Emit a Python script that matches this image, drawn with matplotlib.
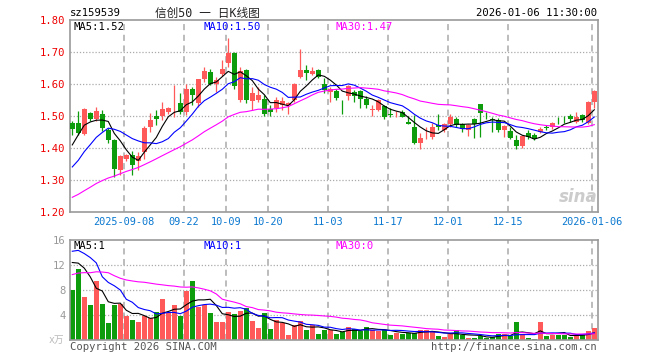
import numpy as np
import pandas as pd
import matplotlib
matplotlib.use("Agg")
from matplotlib import pyplot as plt

plt.rcParams['font.family'] = ['DejaVu Sans Mono', 'Noto Sans CJK SC']

# daily candles, 2025-08-26 .. 2026-01-06
opens = [1.478, 1.478, 1.445, 1.510, 1.490, 1.507, 1.457, 1.426, 1.333, 1.367,
         1.379, 1.359, 1.387, 1.466, 1.501, 1.500, 1.514, 1.532, 1.540, 1.514,
         1.586, 1.542, 1.615, 1.639, 1.600, 1.631, 1.665, 1.698, 1.550, 1.645,
         1.548, 1.552, 1.555, 1.521, 1.524, 1.534, 1.534, 1.552, 1.621, 1.646,
         1.631, 1.646, 1.602, 1.576, 1.579, 1.548, 1.562, 1.576, 1.579, 1.555,
         1.520, 1.519, 1.531, 1.506, 1.506, 1.514, 1.482, 1.465, 1.417, 1.447,
         1.435, 1.472, 1.456, 1.475, 1.490, 1.475, 1.458, 1.490, 1.537, 1.500,
         1.490, 1.488, 1.456, 1.453, 1.425, 1.406, 1.448, 1.441, 1.451, 1.465,
         1.465, 1.486, 1.488, 1.500, 1.482, 1.503, 1.479, 1.545]
highs = [1.485, 1.517, 1.524, 1.512, 1.528, 1.520, 1.463, 1.428, 1.379, 1.383,
         1.390, 1.387, 1.468, 1.510, 1.520, 1.545, 1.530, 1.597, 1.571, 1.602,
         1.592, 1.617, 1.654, 1.649, 1.623, 1.675, 1.746, 1.700, 1.654, 1.648,
         1.592, 1.590, 1.566, 1.534, 1.560, 1.560, 1.545, 1.603, 1.711, 1.660,
         1.654, 1.649, 1.618, 1.592, 1.586, 1.550, 1.597, 1.581, 1.581, 1.562,
         1.534, 1.555, 1.534, 1.524, 1.517, 1.519, 1.500, 1.503, 1.446, 1.467,
         1.477, 1.508, 1.477, 1.506, 1.496, 1.477, 1.475, 1.493, 1.538, 1.514,
         1.498, 1.493, 1.472, 1.467, 1.440, 1.440, 1.456, 1.448, 1.465, 1.472,
         1.482, 1.496, 1.500, 1.506, 1.514, 1.508, 1.546, 1.583]
lows = [1.442, 1.442, 1.440, 1.485, 1.485, 1.452, 1.416, 1.309, 1.317, 1.360,
        1.316, 1.330, 1.365, 1.449, 1.473, 1.487, 1.508, 1.498, 1.508, 1.503,
        1.534, 1.530, 1.607, 1.597, 1.576, 1.625, 1.654, 1.585, 1.545, 1.540,
        1.519, 1.545, 1.500, 1.500, 1.514, 1.519, 1.508, 1.545, 1.618, 1.612,
        1.628, 1.618, 1.571, 1.545, 1.550, 1.506, 1.550, 1.545, 1.527, 1.527,
        1.500, 1.517, 1.492, 1.496, 1.498, 1.496, 1.474, 1.413, 1.396, 1.430,
        1.430, 1.458, 1.451, 1.465, 1.465, 1.451, 1.437, 1.433, 1.435, 1.490,
        1.451, 1.451, 1.435, 1.427, 1.396, 1.399, 1.430, 1.425, 1.448, 1.456,
        1.461, 1.475, 1.477, 1.482, 1.477, 1.482, 1.475, 1.527]
closes = [1.460, 1.447, 1.522, 1.490, 1.517, 1.463, 1.425, 1.335, 1.374, 1.377,
          1.348, 1.374, 1.463, 1.489, 1.492, 1.522, 1.524, 1.533, 1.514, 1.586,
          1.566, 1.615, 1.642, 1.600, 1.612, 1.649, 1.698, 1.595, 1.640, 1.550,
          1.573, 1.566, 1.508, 1.514, 1.552, 1.547, 1.542, 1.602, 1.646, 1.635,
          1.641, 1.621, 1.581, 1.586, 1.558, 1.546, 1.594, 1.562, 1.555, 1.536,
          1.521, 1.550, 1.496, 1.505, 1.507, 1.498, 1.475, 1.417, 1.433, 1.448,
          1.465, 1.467, 1.475, 1.496, 1.472, 1.461, 1.472, 1.475, 1.510, 1.499,
          1.488, 1.456, 1.469, 1.433, 1.406, 1.437, 1.435, 1.430, 1.461, 1.464,
          1.477, 1.485, 1.487, 1.490, 1.498, 1.488, 1.545, 1.579]
volumes = [8.0, 11.4, 6.9, 5.6, 9.5, 5.8, 2.8, 5.6, 5.8, 3.8,
           3.2, 2.9, 3.8, 3.6, 4.5, 6.6, 4.3, 5.6, 3.8, 7.9,
           9.5, 5.3, 5.6, 4.3, 2.9, 2.9, 4.5, 4.2, 4.6, 5.2,
           3.1, 2.0, 4.4, 1.8, 3.2, 2.7, 0.8, 2.4, 3.1, 1.6,
           2.4, 1.0, 1.6, 1.6, 1.0, 1.3, 2.1, 1.8, 1.5, 2.1,
           1.6, 1.5, 1.6, 0.8, 1.2, 1.0, 1.2, 1.1, 1.6, 1.6,
           1.4, 0.7, 0.5, 0.9, 1.6, 0.8, 0.3, 0.3, 0.7, 0.4,
           0.5, 1.0, 1.0, 0.6, 2.9, 0.9, 0.4, 0.2, 2.9, 0.7,
           0.8, 0.8, 0.8, 0.5, 0.7, 1.0, 1.4, 1.9]

# earlier sessions (not drawn), only feed the moving averages
prior_close = [1.17, 1.18, 1.16, 1.17, 1.19, 1.18, 1.16, 1.15, 1.16, 1.17,
               1.18, 1.20, 1.22, 1.21, 1.23, 1.24, 1.25, 1.24, 1.26, 1.25,
               1.24, 1.25, 1.27, 1.29, 1.31, 1.29, 1.37, 1.44, 1.49]
prior_volume = [4, 5, 6, 5, 7, 6, 20, 18, 12, 8,
                7, 6, 8, 9, 10, 8, 8, 8, 9, 8,
                10, 12, 12, 18, 28, 11.9, 10.9, 12.6, 18.6]

date_pos = [9, 19, 26, 33, 43, 53, 63, 73, 87]
date_labels = ['2025-09-08', '09-22', '10-09', '10-20', '11-03', '11-17',
               '12-01', '12-15', '2026-01-06']

RED = '#ff5959'
GREEN = '#0c9c0c'
GRID = '#aaaaaa'
EDGE = '#999999'

n = len(closes)
x = np.arange(n)
cl_all = pd.Series(prior_close + closes)
vo_all = pd.Series(prior_volume + volumes)
np_ = len(prior_close)
ma = {k: cl_all.rolling(k).mean().values[np_:] for k in (5, 10, 30)}
vma = {k: vo_all.rolling(k).mean().values[np_:] for k in (5, 10, 30)}

W, H = 660, 360
fig = plt.figure(figsize=(6.6, 3.6), dpi=100)
fig.patch.set_facecolor('white')


def box(l, t, r, b):
    return [l / W, 1 - b / H, (r - l) / W, (b - t) / H]


ax = fig.add_axes(box(70, 20.3, 597.7, 212))
axv = fig.add_axes(box(70, 240, 597.7, 340))
xl = (-0.38, -0.38 + 527.7 / 6)

up = [c >= o for o, c in zip(opens, closes)]
cols = [RED if u else GREEN for u in up]

for a in (ax, axv):
    a.set_xlim(*xl)
    for s in a.spines.values():
        s.set_color(EDGE)
        s.set_linewidth(1.2)
    for p in date_pos:
        a.axvline(p - 0.4, color=GRID, lw=1.1, ls=(0, (4, 3)), zorder=0)

# price panel
ax.set_ylim(1.20, 1.80)
for yv in [1.3, 1.4, 1.5, 1.6, 1.7]:
    ax.axhline(yv, color=GRID, lw=0.9, ls=(0, (1, 1.5)), zorder=0)
ax.vlines(x, lows, highs, colors=cols, lw=0.9, zorder=2)
bottoms = np.minimum(opens, closes)
heights = np.maximum(np.abs(np.array(closes) - np.array(opens)), 0.0012)
ax.bar(x, heights, bottom=bottoms, width=0.78, color=cols, lw=0, zorder=3)
ax.plot(x, ma[5], color='black', lw=0.8, zorder=4)
ax.plot(x, ma[10], color='#0000ff', lw=0.8, zorder=4)
ax.plot(x, ma[30], color='#ff00ff', lw=0.8, zorder=4)
ax.set_yticks([1.2, 1.3, 1.4, 1.5, 1.6, 1.7, 1.8])
ax.set_yticklabels(['%.2f' % v for v in [1.2, 1.3, 1.4, 1.5, 1.6, 1.7, 1.8]],
                   color='#ee0000', fontsize=7.6)
ax.set_xticks([p - 0.4 for p in date_pos])
ax.set_xticklabels(date_labels, color='#0a78d0', fontsize=7.4)
ax.tick_params(length=0, pad=3.5)

# volume panel
axv.set_ylim(0, 16)
for yv in [4, 8, 12]:
    axv.axhline(yv, color=GRID, lw=0.9, ls=(0, (1, 1.5)), zorder=0)
axv.bar(x, volumes, width=0.78, color=cols, lw=0, zorder=2)
axv.plot(x, vma[5], color='black', lw=0.8, zorder=3)
axv.plot(x, vma[10], color='#0000ff', lw=0.8, zorder=3)
axv.plot(x, vma[30], color='#ff00ff', lw=0.8, zorder=3)
axv.set_yticks([4, 8, 12, 16])
axv.set_yticklabels(['4', '8', '12', '16'], color='#999999', fontsize=7.6)
axv.set_xticks([])
axv.tick_params(length=0, pad=3)


def ftext(px, py, s, **kw):
    fig.text(px / W, 1 - py / H, s, va='center', **kw)


ftext(70, 13, 'sz159539', fontsize=7.6, color='black')
ftext(207, 13, '信创50 一 日K线图', fontsize=8.4, color='#222222', ha='center')
ftext(597, 13, '2026-01-06 11:30:00', fontsize=7.6, color='black', ha='right')

ftext(74, 27, 'MA5:%.2f' % ma[5][-1], fontsize=7.6, color='black')
ftext(204, 27, 'MA10:%.2f' % ma[10][-1], fontsize=7.6, color='#0000ff')
ftext(335, 27, 'MA30:%.2f' % ma[30][-1], fontsize=7.6, color='#ff00ff')

ftext(74, 246, 'MA5:%d' % vma[5][-1], fontsize=7.6, color='black')
ftext(204, 246, 'MA10:%d' % vma[10][-1], fontsize=7.6, color='#0000ff')
ftext(335, 246, 'MA30:%d' % vma[30][-1], fontsize=7.6, color='#ff00ff')
ftext(64, 340, 'x万', fontsize=7, color='#bbbbbb', ha='right')

ftext(70, 347, 'Copyright 2026 SINA.COM', fontsize=7.6, color='#555555')
ftext(597, 347, 'http://finance.sina.com.cn', fontsize=7.6, color='#555555', ha='right')

# watermark
ftext(578, 197, 'sina', fontsize=12, color='#cccccc', ha='center',
      fontweight='bold', style='italic', family='DejaVu Sans')

fig.savefig('out.png', dpi=100, facecolor='white')
